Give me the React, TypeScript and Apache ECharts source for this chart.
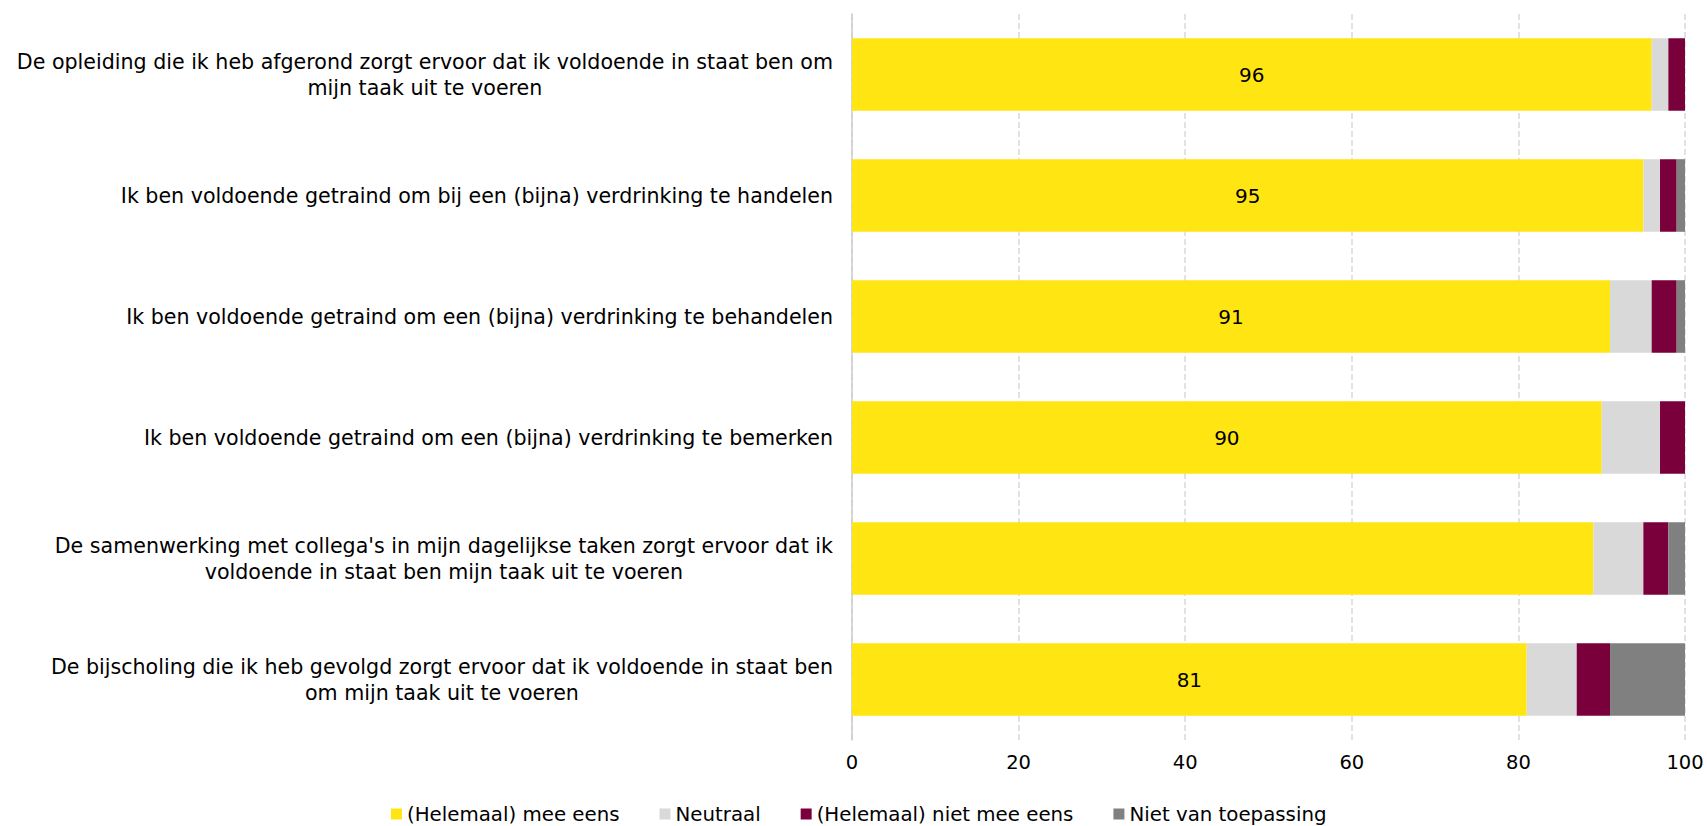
import React, { useEffect, useRef } from "react";
import * as echarts from "echarts";

const categories = [
  "De opleiding die ik heb afgerond zorgt ervoor dat ik voldoende in staat ben om\nmijn taak uit te voeren",
  "Ik ben voldoende getraind om bij een (bijna) verdrinking te handelen",
  "Ik ben voldoende getraind om een (bijna) verdrinking te behandelen",
  "Ik ben voldoende getraind om een (bijna) verdrinking te bemerken",
  "De samenwerking met collega's in mijn dagelijkse taken zorgt ervoor dat ik\nvoldoende in staat ben mijn taak uit te voeren",
  "De bijscholing die ik heb gevolgd zorgt ervoor dat ik voldoende in staat ben\nom mijn taak uit te voeren",
];

const seriesNames = [
  "(Helemaal) mee eens",
  "Neutraal",
  "(Helemaal) niet mee eens",
  "Niet van toepassing",
];

const meeEens = [96, 95, 91, 90, 89, 81];
const neutraal = [2, 2, 5, 7, 6, 6];
const nietMeeEens = [2, 2, 3, 3, 3, 4];
const nietVanToepassing = [0, 1, 1, 0, 2, 9];
// which value labels are shown on the first series (the reference omits one)
const showLabel = [true, true, true, true, false, true];

const xTicks = [0, 20, 40, 60, 80, 100];

const colors = ["#FFE512", "#D9D9D9", "#7A003C", "#808080"];
const FONT = "'DejaVu Sans', sans-serif";

export default function App() {
  const ref = useRef<HTMLDivElement>(null);
  useEffect(() => {
    document.body.style.margin = "0";
    document.body.style.overflow = "hidden";
    if (!ref.current) return;
    const chart = echarts.init(ref.current, undefined, { renderer: "svg" });
    const values = [meeEens, neutraal, nietMeeEens, nietVanToepassing];
    chart.setOption({
      animation: false,
      textStyle: { fontFamily: FONT },
      legend: {
        top: 799,
        left: 386,
        itemWidth: 11,
        itemHeight: 11,
        itemGap: 40,
        icon: "rect",
        textStyle: { fontFamily: FONT, fontSize: 19.8, color: "#000" },
        data: seriesNames,
      },
      grid: { left: 852, right: 22, top: 14, bottom: 86, containLabel: false },
      xAxis: {
        type: "value",
        min: xTicks[0],
        max: xTicks[xTicks.length - 1],
        interval: 20,
        axisLine: { show: false },
        axisTick: { show: false },
        splitLine: { show: true, lineStyle: { color: "#d9d9d9", type: "dashed", width: 1.5 } },
        axisLabel: { fontFamily: FONT, fontSize: 19.5, color: "#000", margin: 12 },
      },
      yAxis: {
        type: "category",
        inverse: true,
        data: categories,
        axisLine: { show: true, lineStyle: { color: "#cccccc", width: 1.5 } },
        axisTick: { show: false },
        axisLabel: {
          margin: 19,
          fontFamily: FONT,
          fontSize: 20.6,
          color: "#000",
          lineHeight: 26,
          formatter: (v: string) => v.split("\n").map((l) => `{c|${l}}`).join("\n"),
          rich: { c: { align: "center", fontFamily: FONT, fontSize: 20.6, lineHeight: 26, color: "#000" } },
        },
      },
      series: seriesNames.map((name, i) => ({
        name,
        type: "bar",
        stack: "total",
        barCategoryGap: "40%",
        data: values[i].map((v, j) =>
          i === 0 ? { value: v, label: { show: showLabel[j] } } : v
        ),
        itemStyle: { color: colors[i] },
        label:
          i === 0
            ? { show: true, position: "inside", color: "#000", fontFamily: FONT, fontSize: 20 }
            : { show: false },
      })),
    });
    return () => chart.dispose();
  }, []);
  return <div ref={ref} style={{ width: 1707, height: 826 }} />;
}
